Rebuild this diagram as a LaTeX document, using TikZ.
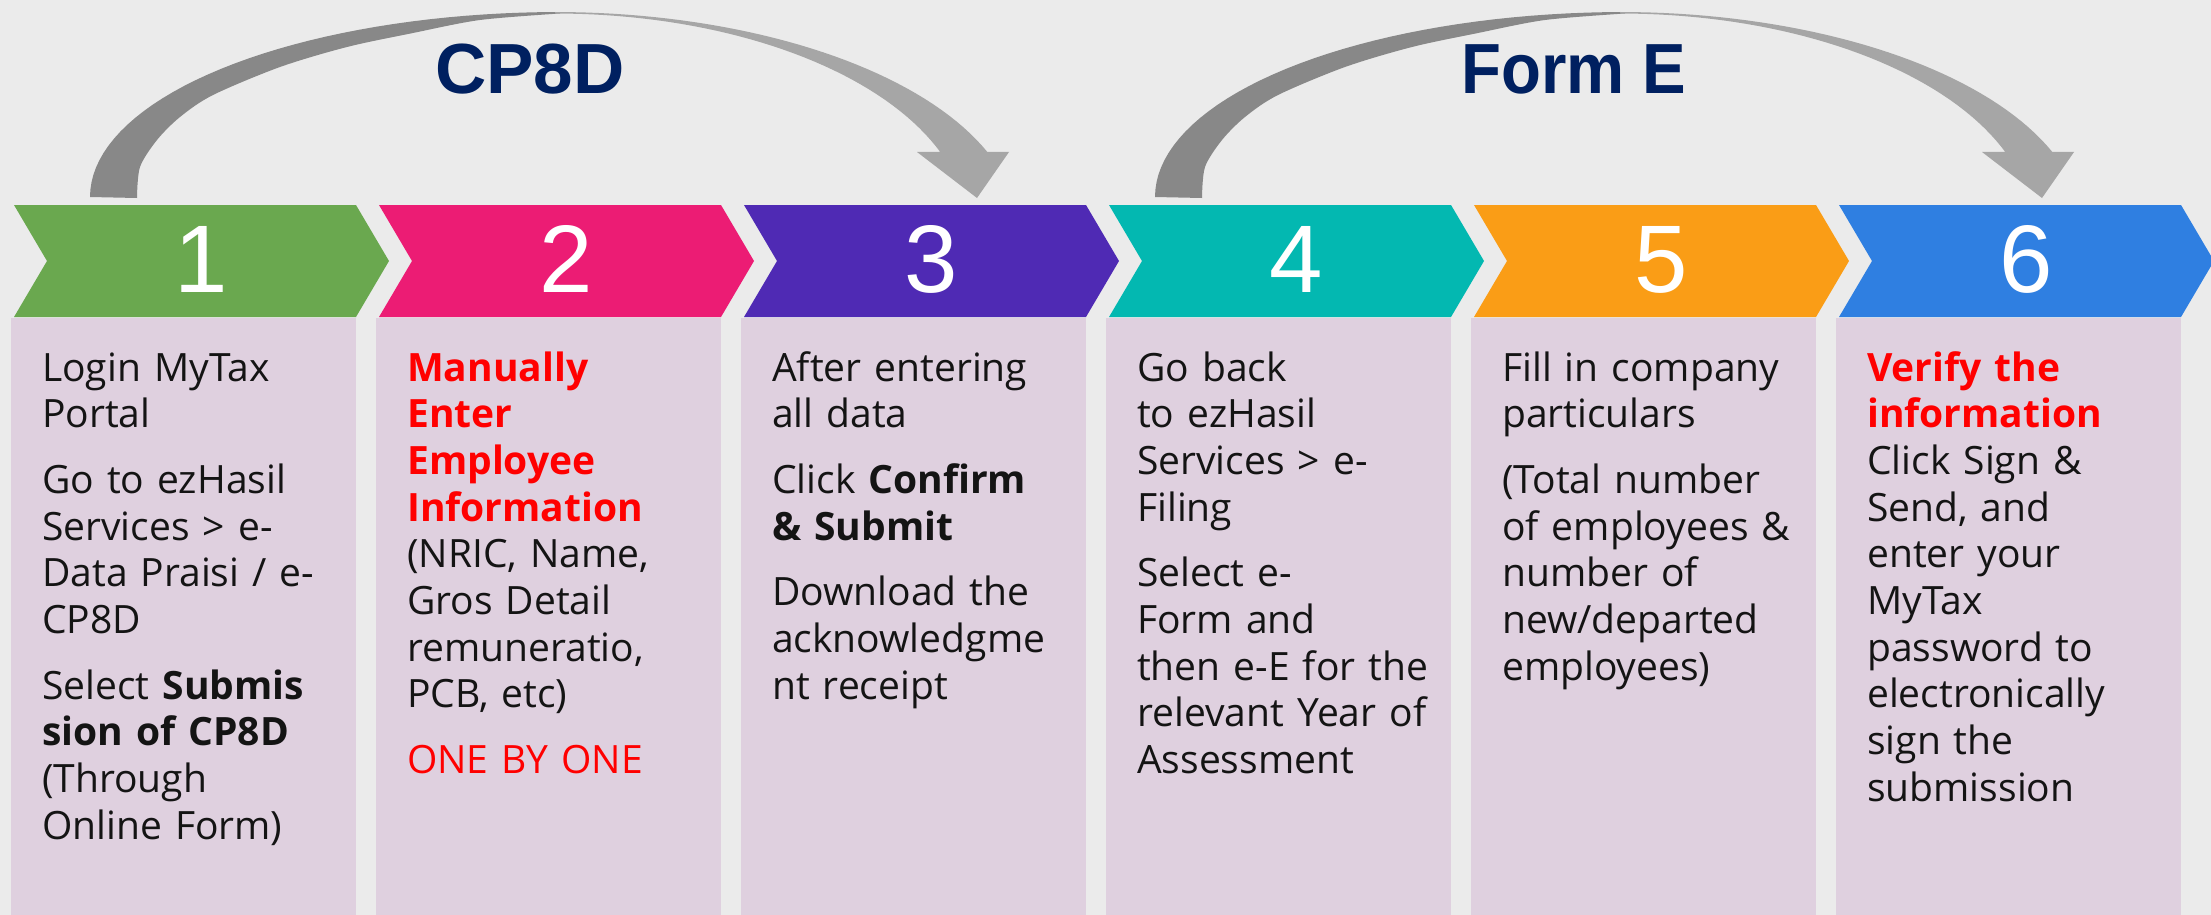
\documentclass[tikz,border=0pt]{standalone}
\usepackage{fontspec}
\usepackage{graphicx}
\setmainfont{Open Sans}
\newfontfamily\numfont{Liberation Sans}
\newfontfamily\titlefont{Liberation Sans}
\definecolor{bgc}{RGB}{235,235,235}
\definecolor{lav}{RGB}{223,208,223}
\definecolor{arrdark}{RGB}{136,136,136}
\definecolor{arrlight}{RGB}{166,166,166}
\definecolor{navy}{RGB}{0,32,96}
\definecolor{cgreen}{RGB}{106,168,79}
\definecolor{cpink}{RGB}{236,28,116}
\definecolor{cpurple}{RGB}{79,42,180}
\definecolor{cteal}{RGB}{3,184,177}
\definecolor{corange}{RGB}{250,157,22}
\definecolor{cblue}{RGB}{47,127,225}
\definecolor{hired}{RGB}{255,0,0}
\definecolor{txtc}{RGB}{20,20,20}
\tikzset{
  numtxt/.style={anchor=base, inner sep=0pt, text=white, font=\numfont\fontsize{96}{96}\selectfont},
  titletxt/.style={anchor=base, inner sep=0pt, text=navy, font=\titlefont\bfseries\fontsize{71}{71}\selectfont},
  bodytxt/.style={anchor=base west, inner sep=0pt, text=txtc, align=left, text width=330pt, font=\fontsize{39}{46.7}\selectfont},
}
\newcommand\gpArrow[1]{%
  \begin{scope}[shift={(#1,0)}]
    \fill[arrdark] plot[domain=0:90, samples=40, variable=\t] ({560-470*cos(\t)},{197-185*sin(\t)})
      -- plot[smooth] coordinates {(560,13.5) (480,20) (413,33) (347,47) (280,67) (213,95) (180,117) (157,140) (140,167) (137,198)}
      -- cycle;
    \fill[arrlight] plot[domain=90:21, samples=40, variable=\t] ({555+463*cos(\t)},{230-218*sin(\t)})
      -- (1009,152) -- (977,198) -- (917,152) -- (940,152)
      -- plot[domain=21:90, samples=40, variable=\t] ({555+413*cos(\t)},{230-216.5*sin(\t)})
      -- cycle;
  \end{scope}}
\newcommand\hr[1]{\textcolor{hired}{\textbf{#1}}}
\begin{document}
\begin{tikzpicture}[x=1pt,y=-1pt]
  \fill[bgc] (0,0) rectangle (2211,915);
  \useasboundingbox (0,0) rectangle (2211,915);
  \clip (0,0) rectangle (2211,915);
  % curved arrows
  \gpArrow{0}
  \gpArrow{1065}
  \node[titletxt] (t1) at (530,94) {CP8D};
  \node[titletxt] (t2) at (1574,94) {\scalebox{0.92}[1]{Form E}};
  % chevrons and boxes
  \foreach \i/\c/\d in {0/cgreen/1,1/cpink/2,2/cpurple/3,3/cteal/4,4/corange/5,5/cblue/6} {
    \pgfmathsetmacro\xo{14+365*\i}
    \fill[\c] (\xo,205) -- ++(342,0) -- ++(33,56) -- ++(-33,56) -- ++(-342,0) -- ++(33,-56) -- cycle;
    \fill[lav] (\xo-3,318) rectangle ++(345,600);
    \node[numtxt] (n\d) at (\xo+187.5,292) {\d};
  }
  % texts
  \node[bodytxt] (c1) at (42,381) {Login MyTax\\ Portal\\[19pt]
    Go to ezHasil\\ Services > e-\\ Data Praisi / e-\\ CP8D\\[19pt]
    Select \textbf{Submis}\\ \textbf{sion of CP8D}\\ (Through\\ Online Form)};
  \node[bodytxt] (c2) at (407,381) {\hr{Manually}\\ \hr{Enter}\\ \hr{Employee}\\ \hr{Information}\\
    (NRIC, Name,\\ Gros Detail\\ remuneratio,\\ PCB, etc)\\[19pt]
    \textcolor{hired}{ONE BY ONE}};
  \node[bodytxt] (c3) at (772,381) {After entering\\ all data\\[19pt]
    Click \textbf{Confirm}\\ \textbf{\& Submit}\\[19pt]
    Download the\\ acknowledgme\\ nt receipt};
  \node[bodytxt] (c4) at (1137,381) {Go back\\ to ezHasil\\ Services > e-\\ Filing\\[19pt]
    Select e-\\ Form and\\ then e-E for the\\ relevant Year of\\ Assessment};
  \node[bodytxt] (c5) at (1502,381) {Fill in company\\ particulars\\[19pt]
    (Total number\\ of employees \&\\ number of\\ new/departed\\ employees)};
  \node[bodytxt] (c6) at (1867,381) {\hr{Verify the}\\ \hr{information}\\
    Click Sign \&\\ Send, and\\ enter your\\ MyTax\\ password to\\ electronically\\ sign the\\ submission};
\end{tikzpicture}
\end{document}
